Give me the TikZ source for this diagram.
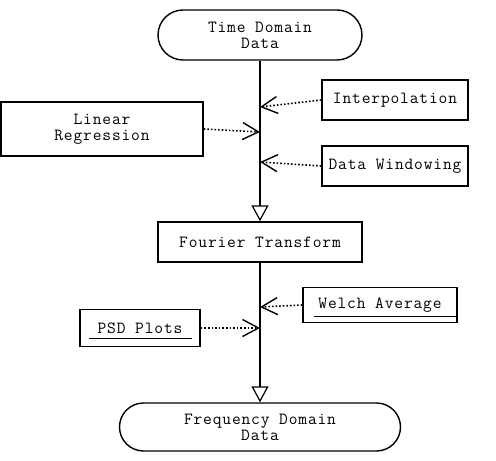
\documentclass[tikz,border=0pt]{standalone}
\usepackage{fontspec}
\newfontfamily\courfont[LetterSpace=5]{Latin Modern Mono}
\usetikzlibrary{arrows.meta,shapes.misc}
\begin{document}
\begin{tikzpicture}[x=1pt, y=-1pt,
    every node/.style={font=\courfont\fontsize{17}{16}\selectfont, align=center, inner sep=0pt},
    terminal/.style={draw, line width=1.4pt, rounded rectangle},
    procbox/.style={draw, line width=1.4pt, rectangle},
    flow/.style={line width=1.4pt, -{Triangle[open, length=16pt, width=17pt, line width=1.2pt]}},
    feed/.style={line width=1.6pt, dotted, -{Straight Barb[length=16pt, width=17pt, line width=1.4pt]}}]

    % 1. Khung hình
    \useasboundingbox (0, 0) rectangle (496, 461);

    % 2. Các khối chính
    \node[terminal, minimum width=204pt, minimum height=50pt] (tdd) at (260, 35) {Time Domain\\Data};
    \node[procbox, minimum width=204pt, minimum height=40pt] (ft) at (260, 242) {Fourier Transform};
    \node[terminal, minimum width=281pt, minimum height=48pt] (fdd) at (260, 427) {Frequency Domain\\Data};

    % 3. Các khối phụ
    \node[procbox, minimum width=146pt, minimum height=40pt] (interp) at (395, 100) {Interpolation};
    \node[procbox, minimum width=146pt, minimum height=40pt] (window) at (395, 166) {Data Windowing};
    \node[procbox, minimum width=202pt, minimum height=54pt] (linreg) at (102, 129) {Linear\\Regression};
    \node[procbox, minimum width=154pt, minimum height=35pt] (welch) at (380, 305) {Welch Average};
    \node[procbox, minimum width=120pt, minimum height=37pt] (psd) at (140, 328) {PSD Plots};

    % 4. Gạch chân
    \draw[line width=0.8pt] ([xshift=12pt, yshift=7pt]welch.south west) -- ([xshift=-2pt, yshift=7pt]welch.south east);
    \draw[line width=0.8pt] ([xshift=10pt, yshift=9pt]psd.south west) -- ([xshift=-9pt, yshift=9pt]psd.south east);

    % 5. Luồng chính
    \draw[flow] (tdd.south) -- (ft.north);
    \draw[flow] (ft.south) -- (fdd.north);

    % 6. Điểm nối trên trục
    \coordinate (pInterp) at (260, 107);
    \coordinate (pLinreg) at (260, 132);
    \coordinate (pWindow) at (260, 162);
    \coordinate (pWelch) at (260, 307);
    \coordinate (pPsd) at (260, 328);

    % 7. Mũi tên chấm
    \draw[feed] (interp.west) -- (pInterp);
    \draw[feed] (linreg.east) -- (pLinreg);
    \draw[feed] (window.west) -- (pWindow);
    \draw[feed] (welch.west) -- (pWelch);
    \draw[feed] (psd.east) -- (pPsd);

\end{tikzpicture}
\end{document}
